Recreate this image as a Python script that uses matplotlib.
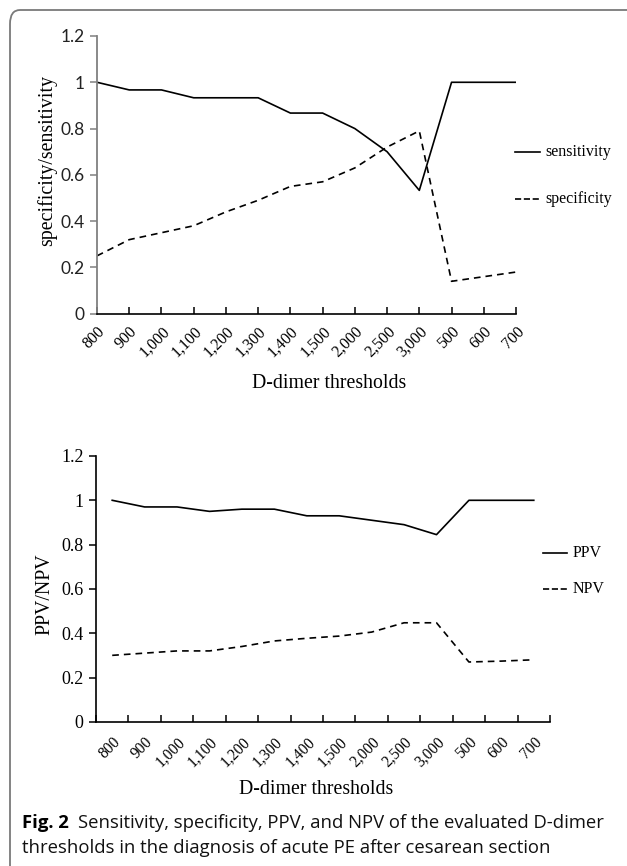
import matplotlib
matplotlib.use("Agg")
import matplotlib.pyplot as plt
from matplotlib.lines import Line2D
from matplotlib.patches import FancyBboxPatch
import numpy as np

# ---------------- data ----------------
thresholds = ["800", "900", "1,000", "1,100", "1,200", "1,300", "1,400",
              "1,500", "2,000", "2,500", "3,000", "500", "600", "700"]
sensitivity = [1.0, 0.967, 0.967, 0.933, 0.933, 0.933, 0.867, 0.867,
               0.80, 0.70, 0.533, 1.0, 1.0, 1.0]
specificity = [0.25, 0.32, 0.35, 0.38, 0.44, 0.49, 0.55, 0.57,
               0.63, 0.72, 0.79, 0.14, 0.16, 0.18]
ppv = [1.0, 0.97, 0.97, 0.95, 0.96, 0.96, 0.93, 0.93,
       0.91, 0.89, 0.845, 1.0, 1.0, 1.0]
npv = [0.30, 0.31, 0.32, 0.32, 0.34, 0.365, 0.377, 0.387,
       0.405, 0.447, 0.447, 0.27, 0.274, 0.28]
yticks = [0, 0.2, 0.4, 0.6, 0.8, 1, 1.2]
ytick_labels = ["0", "0.2", "0.4", "0.6", "0.8", "1", "1.2"]
xlabel = "D-dimer thresholds"
caption_bold = "Fig. 2"
caption_line1 = "Sensitivity, specificity, PPV, and NPV of the evaluated D-dimer"
caption_line2 = "thresholds in the diagnosis of acute PE after cesarean section"

W, H = 627, 866
SERIF = ["Liberation Serif", "DejaVu Serif"]
SANS_TICK = ["Lato", "DejaVu Sans"]
CAP = ["Open Sans", "DejaVu Sans"]

fig = plt.figure(figsize=(W / 100, H / 100), dpi=100)


def rect(left, top, right, bottom):
    return [left / W, 1 - bottom / H, (right - left) / W, (bottom - top) / H]


def fx(x):
    return x / W


def fy(y):
    return 1 - y / H


# border (rounded, cropped at right/bottom)
border = FancyBboxPatch((fx(10), fy(900)), fx(700), fy(10) - fy(900),
                        boxstyle="round,pad=0,rounding_size=0.016",
                        transform=fig.transFigure, fill=False,
                        edgecolor="#7a7a7a", linewidth=1.3)
fig.patches.append(border)

x = np.arange(len(thresholds))
LW = 1.2
DASH = (0, (4, 3))

# ---------------- top chart ----------------
ax1 = fig.add_axes(rect(97, 36, 516, 313.7))
l1, = ax1.plot(x, sensitivity, color="black", lw=LW)
l2, = ax1.plot(x, specificity, color="black", lw=LW, linestyle=DASH)
ax1.set_xlim(0, len(thresholds) - 1)
ax1.set_ylim(0, 1.2)
ax1.set_yticks(yticks)
ax1.set_yticklabels(ytick_labels, family=SANS_TICK, fontsize=12.5, color="#222222")
ax1.set_xticks(x)
ax1.set_xticklabels(thresholds, family=SERIF, fontsize=11.5, rotation=45,
                    ha="right", va="top", rotation_mode="anchor")
for s in ["top", "right"]:
    ax1.spines[s].set_visible(False)
ax1.spines["left"].set_color("#808080")
ax1.spines["left"].set_linewidth(1.3)
ax1.spines["bottom"].set_color("black")
ax1.spines["bottom"].set_linewidth(1.2)
ax1.tick_params(axis="y", direction="out", length=5, width=1.1, color="#808080", pad=4)
ax1.tick_params(axis="x", direction="in", length=5, width=1.1, color="black", pad=7)

# ---------------- bottom chart ----------------
ax2 = fig.add_axes(rect(96, 456, 550, 721.8))
l3, = ax2.plot(x, ppv, color="black", lw=LW)
l4, = ax2.plot(x, npv, color="black", lw=LW, linestyle=DASH)
ax2.set_xlim(-0.5, len(thresholds) - 0.5)
ax2.set_ylim(0, 1.2)
ax2.set_yticks(yticks)
ax2.set_yticklabels(ytick_labels, family=SERIF, fontsize=13)
ax2.set_xticks(np.arange(-0.5, len(thresholds)), labels=[""] * (len(thresholds) + 1))
ax2.set_xticks(x, minor=True)
ax2.set_xticklabels(thresholds, minor=True, family=SERIF, fontsize=11.2, rotation=45,
                    ha="right", va="top", rotation_mode="anchor")
for s in ["top", "right"]:
    ax2.spines[s].set_visible(False)
for s in ["left", "bottom"]:
    ax2.spines[s].set_color("black")
    ax2.spines[s].set_linewidth(1.2)
ax2.tick_params(axis="y", direction="out", length=5, width=1.1, pad=4)
ax2.tick_params(axis="x", which="major", direction="in", length=5, width=1.1)
ax2.tick_params(axis="x", which="minor", length=0, pad=9)

# axis labels
fig.text(fx(47), fy(161), "specificity/sensitivity", rotation=90, family=SERIF,
         fontsize=14.3, ha="center", va="center")
fig.text(fx(45), fy(594), "PPV/NPV", rotation=90, family=SERIF,
         fontsize=14.3, ha="center", va="center")
fig.text(fx(329), fy(384), xlabel, family=SERIF, fontsize=14.3, ha="center", va="center")
fig.text(fx(316), fy(789), xlabel, family=SERIF, fontsize=14.3, ha="center", va="center")


# legends (manual, figure pixel positions)
def legend_entry(line, label, x0, x1, y, tx):
    fig.add_artist(Line2D([fx(x0), fx(x1)], [fy(y), fy(y)], transform=fig.transFigure,
                          color=line.get_color(), lw=line.get_linewidth(),
                          linestyle=line.get_linestyle()))
    fig.text(fx(tx), fy(y), label, family=SERIF, fontsize=11.5, ha="left", va="center")


legend_entry(l1, "sensitivity", 515, 540, 152, 545)
legend_entry(l2, "specificity", 515, 540, 199, 545)
legend_entry(l3, "PPV", 543, 567, 553, 573)
legend_entry(l4, "NPV", 543, 567, 589, 573)

# caption
CAPSIZE = 13.3
tb = fig.text(fx(22), fy(823), caption_bold, family=CAP, fontsize=CAPSIZE,
              fontweight="bold", ha="left", va="center")
fig.canvas.draw()
bb = tb.get_window_extent()
fig.text((bb.x1 + 9) / W, fy(823), caption_line1, family=CAP, fontsize=CAPSIZE,
         ha="left", va="center", color="#111111")
fig.text(fx(22), fy(848), caption_line2, family=CAP, fontsize=CAPSIZE,
         ha="left", va="center", color="#111111")

fig.savefig("out.png", dpi=100)
